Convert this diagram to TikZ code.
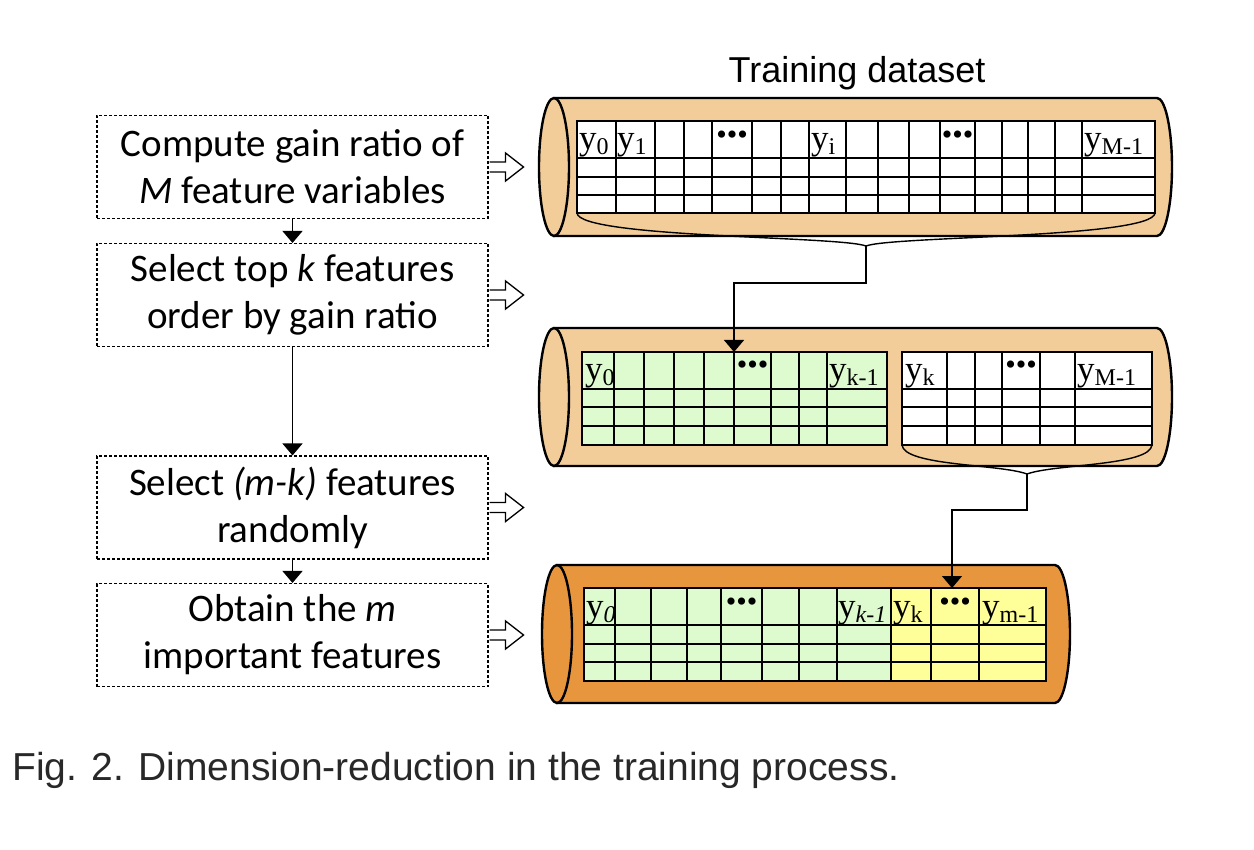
\documentclass[tikz,border=0pt]{standalone}
\usepackage{fontspec}
\setmainfont{Liberation Serif}
\newfontfamily\carlito{Carlito}
\newfontfamily\arialf{Liberation Sans}
\usetikzlibrary{arrows.meta}
\definecolor{cyllight}{RGB}{242,204,153}
\definecolor{cyldark}{RGB}{232,150,62}
\definecolor{cellgreen}{RGB}{221,251,207}
\definecolor{cellyellow}{RGB}{255,255,153}
\definecolor{captiongray}{RGB}{40,40,40}
\newcommand\ysub[1]{y\raisebox{-5pt}{\fontsize{24}{24}\selectfont #1}}
\tikzset{
  procbox/.style={draw, dash pattern=on 3pt off 2pt, line width=1.1pt, minimum width=391pt, minimum height=103pt, inner sep=0pt, align=center, font=\carlito\fontsize{39}{47}\selectfont},
  flowarrow/.style={line width=1.3pt, -{Triangle[width=20pt,length=12pt]}},
  hollow/.style={line width=1.3pt, fill=white},
  cylline/.style={line width=2.4pt},
  grid/.style={line width=1.5pt},
  lab/.style={anchor=base west, inner sep=0pt, font=\fontsize{35}{35}\selectfont},
  dots/.style={anchor=center, inner sep=0pt, font=\fontsize{30}{30}\selectfont},
  bracket/.style={line width=1.4pt},
}
\newcommand\cylinder[6]{% leftcx, rightcx, top, bottom, ry, color
  \filldraw[cylline, fill=#6] (#1,#3) -- (#2,#3) arc[start angle=-90, end angle=90, x radius=15, y radius=#5] -- (#1,#4) -- cycle;
  \filldraw[cylline, fill=#6] (#1,#3) arc[start angle=-90, end angle=270, x radius=15, y radius=#5];
}
\newcommand\hollowarrow[1]{%
  \draw[hollow] ([xshift=1pt]#1.east) ++(0,-5) -- ++(16,0) -- ++(0,-9) -- ++(18,14) -- ++(-18,14) -- ++(0,-9) -- ++(-16,0);
}
\begin{document}
\begin{tikzpicture}[x=1pt, y=-1pt]
\useasboundingbox[fill=white] (0,0) rectangle (1254,850);

% ---------- process boxes ----------
\node[procbox] (b1) at (292.5,167) {Compute gain ratio of\\\textit{M} feature variables};
\node[procbox] (b2) at (292.5,295) {Select top \textit{k} features\\order by gain ratio};
\node[procbox] (b3) at (292.5,507.5) {Select \textit{(m-k)} features\\randomly};
\node[procbox] (b4) at (292.5,635) {Obtain the \textit{m}\\important features};
\draw[flowarrow] (b1) -- (b2);
\draw[flowarrow] (b2) -- (b3);
\draw[flowarrow] (b3) -- (b4);
\hollowarrow{b1}
\hollowarrow{b2}
\hollowarrow{b3}
\hollowarrow{b4}

% ---------- title ----------
\node[font=\arialf\fontsize{36}{36}\selectfont, anchor=base] (title) at (857,83) {Training dataset};

% ---------- cylinder 1 ----------
\cylinder{554}{1157}{98}{236}{69}{cyllight}
\fill[white] (577,121) rectangle (1155,213);
\foreach \x in {616,655,684,712,752,781,809,846,878,909,940,975,1002,1028,1055,1082}
  \draw[grid] (\x,121) -- (\x,213);
\foreach \y in {158,177,195}
  \draw[grid] (577,\y) -- (1155,\y);
\draw[grid] (577,121) rectangle (1155,213);
\node[lab] (t1a) at (579,150) {\ysub{0}};
\node[lab] (t1b) at (617,150) {\ysub{1}};
\node[dots] (t1c) at (732,138) {•••};
\node[lab] (t1d) at (811,150) {\ysub{i}};
\node[dots] (t1e) at (957.5,138) {•••};
\node[lab] (t1f) at (1084,150) {\ysub{M-1}};
\coordinate (c1) at (866,246);
\draw[bracket] (577,213) .. controls (579,238) and (840,236) .. (c1) .. controls (892,236) and (1153,238) .. (1155,213);

% ---------- cylinder 2 ----------
\cylinder{554}{1157}{328}{466}{69}{cyllight}
\fill[cellgreen] (582,352) rectangle (887,445);
\foreach \x in {614,644,674,704,734,771,799,827}
  \draw[grid] (\x,352) -- (\x,445);
\foreach \y in {389,407,426}
  \draw[grid] (582,\y) -- (887,\y);
\draw[grid] (582,352) rectangle (887,445);
\fill[white] (902,352) rectangle (1152,445);
\foreach \x in {947,975,1002,1040,1075}
  \draw[grid] (\x,352) -- (\x,445);
\foreach \y in {389,407,426}
  \draw[grid] (902,\y) -- (1152,\y);
\draw[grid] (902,352) rectangle (1152,445);
\node[lab] (t2a) at (585,381) {\ysub{0}};
\node[dots] (t2b) at (752.5,368) {•••};
\node[lab] (t2c) at (829,381) {\ysub{k-1}};
\node[lab] (t2d) at (905,381) {\ysub{k}};
\node[dots] (t2e) at (1021,368) {•••};
\node[lab] (t2f) at (1077,381) {\ysub{M-1}};
\coordinate (t2in) at (734,352);
\coordinate (c2) at (1027,474);
\draw[bracket] (902,445) .. controls (904,466) and (1000,464) .. (c2) .. controls (1054,464) and (1150,466) .. (1152,445);

% ---------- cylinder 3 ----------
\cylinder{557}{1055}{565}{703}{69}{cyldark}
\fill[cellgreen] (584,588) rectangle (891,681);
\fill[cellyellow] (891,588) rectangle (1046,681);
\foreach \x in {615,651,687,721,762,799,837,891,931,979}
  \draw[grid] (\x,588) -- (\x,681);
\foreach \y in {625,644,662}
  \draw[grid] (584,\y) -- (1046,\y);
\draw[grid] (584,588) rectangle (1046,681);
\node[lab] (t3a) at (586,617) {\ysub{\textit{0}}};
\node[dots] (t3b) at (741.5,605) {•••};
\node[lab] (t3c) at (838,617) {\ysub{\textit{k-1}}};
\node[lab] (t3d) at (893,617) {\ysub{k}};
\node[dots] (t3e) at (955,605) {•••};
\node[lab] (t3f) at (982,617) {\ysub{m-1}};
\coordinate (t3in) at (952,588);

% ---------- connectors ----------
\coordinate (k1) at (866,283);
\draw[flowarrow] (c1) -- (k1) -| (t2in);
\coordinate (k2) at (1027,510);
\draw[flowarrow] (c2) -- (k2) -| (t3in);

% ---------- caption ----------
\node[font=\arialf\fontsize{39}{39}\selectfont, text=captiongray, anchor=base west, inner sep=0pt] (cap) at (12,780) {Fig. 2. Dimension-reduction in the training process.};
\end{tikzpicture}
\end{document}
